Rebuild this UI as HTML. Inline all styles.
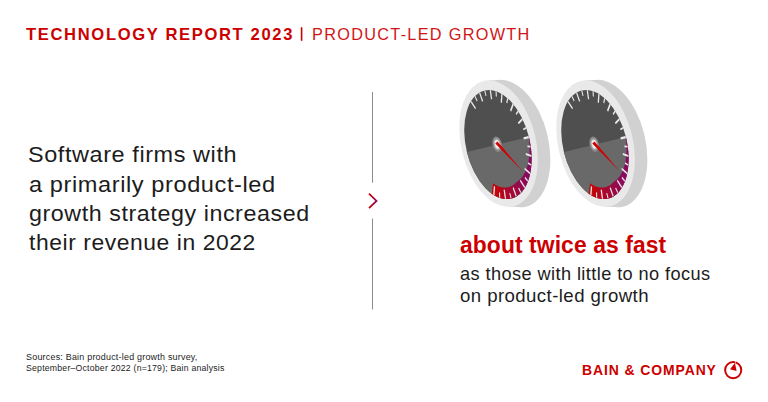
<!DOCTYPE html>
<html><head><meta charset="utf-8">
<style>
html,body{margin:0;padding:0;background:#fff;}
body{width:768px;height:402px;position:relative;overflow:hidden;font-family:"Liberation Sans",sans-serif;}
.t{position:absolute;white-space:nowrap;transform-origin:0 0;font-family:"Liberation Sans",sans-serif;}
svg{position:absolute;left:0;top:0;}
#h1{left:26.25px;top:23.79px;font-size:16.2px;line-height:21px;font-weight:bold;color:#cc0000;letter-spacing:1.6px;transform:scaleX(1.0248);}
#h2{left:311.80px;top:23.79px;font-size:16.2px;line-height:21px;font-weight:normal;color:#d01515;letter-spacing:1.3px;transform:scaleX(1.0044);}
#l1{left:28.24px;top:140.24px;font-size:22.1px;line-height:29px;font-weight:normal;color:#1c1c1c;letter-spacing:0.55px;transform:scaleX(1.0613);}
#l2{left:28.75px;top:169.74px;font-size:22.1px;line-height:29px;font-weight:normal;color:#1c1c1c;letter-spacing:0.55px;transform:scaleX(1.0672);}
#l3{left:29.30px;top:199.14px;font-size:22.1px;line-height:29px;font-weight:normal;color:#1c1c1c;letter-spacing:0.55px;transform:scaleX(1.0523);}
#l4{left:29.30px;top:228.44px;font-size:22.1px;line-height:29px;font-weight:normal;color:#1c1c1c;letter-spacing:0.55px;transform:scaleX(1.0353);}
#b1{left:460.20px;top:229.93px;font-size:23.0px;line-height:30px;font-weight:bold;color:#cc0000;letter-spacing:0.1px;transform:scaleX(0.9928);}
#s1{left:460.40px;top:263.37px;font-size:17.7px;line-height:23px;font-weight:normal;color:#1c1c1c;letter-spacing:0.4px;transform:scaleX(1.0276);}
#s2{left:460.40px;top:285.17px;font-size:17.7px;line-height:23px;font-weight:normal;color:#1c1c1c;letter-spacing:0.4px;transform:scaleX(1.0525);}
#c1{left:26.00px;top:351.79px;font-size:8.4px;line-height:11px;font-weight:normal;color:#1c1c1c;letter-spacing:0.2px;transform:scaleX(1.0688);}
#c2{left:26.00px;top:362.69px;font-size:8.4px;line-height:11px;font-weight:normal;color:#1c1c1c;letter-spacing:0.2px;transform:scaleX(1.0408);}
#g1{left:582.00px;top:361.25px;font-size:14px;line-height:18px;font-weight:bold;color:#cc0000;letter-spacing:0.9px;transform:scaleX(0.9970);}
</style></head><body>
<svg width="768" height="402" viewBox="0 0 768 402">
  <defs><linearGradient id="cg" x1="0" x2="1" y1="0" y2="0"><stop offset="0" stop-color="#cc0000"/><stop offset="1" stop-color="#8c0a5a"/></linearGradient></defs>
  <rect x="300.8" y="27.3" width="1.6" height="13.5" fill="#cc0000"/>
  <rect x="372" y="92" width="1" height="90.7" fill="#8c8c8c"/>
  <rect x="372" y="218.5" width="1" height="91" fill="#8c8c8c"/>
  <polyline points="369.0,193.7 376.5,200.9 369.0,208.1" fill="none" stroke="url(#cg)" stroke-width="1.8"/>
  <circle cx="733.2" cy="370.1" r="8.1" fill="none" stroke="#cc0000" stroke-width="1.95"/>
  <polygon points="734.9,362.9 730.0,369.2 736.6,371.1" fill="#cc0000"/>
  <line x1="735.6" y1="361.0" x2="735.3" y2="363.2" stroke="#fff" stroke-width="0.6"/>
<g id="gauges">
<circle r="1" transform="matrix(36.655,-8.559,14.904,63.139,510.80,143.60)" fill="#d1d1d1"/>
<polygon points="488.82,80.33 501.02,80.33 520.58,206.87 508.38,206.87" fill="#d1d1d1"/>
<circle r="1" transform="matrix(36.400,-8.500,14.800,62.700,498.60,143.60)" fill="#e9e9e9"/>
<circle r="1" transform="matrix(31.000,-7.400,13.200,54.100,497.90,144.50)" fill="#4f4f4f"/>
<path d="M-1,0 A1,1 0 0 0 1,0 Z" transform="matrix(31.000,-7.400,13.200,54.100,497.90,144.50)" fill="#696969"/>
<polygon points="528.71,137.14 528.90,137.10 529.67,140.51 529.19,140.57" fill="#8a0a5e"/>
<polygon points="529.07,140.01 529.55,139.94 530.21,143.37 529.44,143.39" fill="#8a0a5e"/>
<polygon points="529.34,142.84 530.11,142.80 530.67,146.23 529.59,146.17" fill="#8a0a5e"/>
<polygon points="529.50,145.62 530.58,145.65 531.03,149.08 529.64,148.89" fill="#8a0a5e"/>
<polygon points="529.58,148.34 530.97,148.51 531.31,151.92 529.60,151.54" fill="#8a0a5e"/>
<polygon points="529.56,151.00 531.26,151.35 531.49,154.74 529.48,154.13" fill="#8a0a5e"/>
<polygon points="529.45,153.60 531.46,154.18 531.58,157.54 529.26,156.64" fill="#8a0a5e"/>
<polygon points="529.25,156.12 531.57,156.98 531.58,160.29 528.95,159.06" fill="#8a0a5e"/>
<polygon points="528.96,158.56 531.59,159.74 531.49,163.01 528.57,161.40" fill="#8a0a5e"/>
<polygon points="528.59,160.90 531.51,162.47 531.30,165.67 528.10,163.64" fill="#8a0a5e"/>
<polygon points="528.14,163.16 531.35,165.14 531.03,168.27 527.55,165.78" fill="#8a0a5e"/>
<polygon points="527.60,165.32 531.09,167.76 530.66,170.81 526.92,167.82" fill="#8a0a5e"/>
<polygon points="526.99,167.37 530.74,170.31 530.20,173.28 526.23,169.74" fill="#8a0a5e"/>
<polygon points="526.31,169.32 530.30,172.80 529.65,175.67 525.46,171.56" fill="#8a0a5e"/>
<polygon points="525.56,171.15 529.77,175.20 529.02,177.98 524.63,173.26" fill="#8a0a5e"/>
<polygon points="524.75,172.87 529.15,177.52 528.30,180.19 523.74,174.83" fill="#8b0a5d"/>
<polygon points="523.87,174.46 528.45,179.75 527.50,182.30 522.79,176.29" fill="#8c0a5b"/>
<polygon points="522.93,175.94 527.67,181.89 526.62,184.31 521.79,177.62" fill="#8e0959"/>
<polygon points="521.95,177.30 526.80,183.92 525.66,186.21 520.74,178.83" fill="#8f0957"/>
<polygon points="520.91,178.52 525.85,185.84 524.62,188.00 519.65,179.91" fill="#910954"/>
<polygon points="519.82,179.63 524.83,187.65 523.51,189.67 518.51,180.86" fill="#930951"/>
<polygon points="518.70,180.60 523.73,189.34 522.33,191.21 517.34,181.68" fill="#95084e"/>
<polygon points="517.54,181.44 522.57,190.91 521.08,192.63 516.21,182.52" fill="#97084b"/>
<polygon points="516.41,182.31 521.33,192.35 519.77,193.91 515.17,183.54" fill="#990848"/>
<polygon points="515.39,183.34 520.03,193.67 518.39,195.06 514.09,184.44" fill="#9c0745"/>
<polygon points="514.31,184.27 518.67,194.84 516.97,196.07 512.96,185.24" fill="#9e0741"/>
<polygon points="513.19,185.09 517.26,195.88 515.49,196.94 511.79,185.93" fill="#a1073d"/>
<polygon points="512.03,185.80 515.79,196.78 513.96,197.66 510.59,186.50" fill="#a40639"/>
<polygon points="510.83,186.39 514.27,197.53 512.39,198.24 509.34,186.96" fill="#a60636"/>
<polygon points="509.60,186.87 512.70,198.14 510.77,198.67 508.07,187.30" fill="#a90531"/>
<polygon points="508.33,187.24 511.10,198.60 509.13,198.96 506.77,187.52" fill="#ac052d"/>
<polygon points="507.03,187.49 509.46,198.91 507.45,199.09 505.44,187.63" fill="#af0429"/>
<polygon points="505.71,187.62 507.79,199.08 505.75,199.08 504.10,187.62" fill="#b20425"/>
<polygon points="504.37,187.63 506.09,199.09 504.02,198.91 502.73,187.48" fill="#b50320"/>
<polygon points="503.01,187.52 504.37,198.96 502.28,198.60 501.36,187.24" fill="#b8031c"/>
<polygon points="501.63,187.30 502.63,198.67 500.52,198.13 499.97,186.87" fill="#bc0217"/>
<polygon points="500.25,186.95 500.87,198.24 498.76,197.53 498.58,186.39" fill="#bf0213"/>
<polygon points="498.86,186.50 499.11,197.66 497.00,196.77 497.19,185.79" fill="#c2020e"/>
<polygon points="497.47,185.92 497.35,196.93 495.24,195.87 495.80,185.08" fill="#c5010a"/>
<polygon points="496.07,185.23 495.59,196.06 493.48,194.83 494.41,184.26" fill="#c80105"/>
<polygon points="494.69,184.44 493.83,195.05 491.74,193.66 493.03,183.33" fill="#cb0001"/>
<polygon points="475.93,108.05 471.49,100.93 470.72,102.20 475.16,109.32" fill="#ebebeb"/>
<polygon points="477.59,100.62 475.40,96.03 474.61,96.84 476.80,101.43" fill="#ebebeb"/>
<polygon points="483.18,101.03 480.15,92.45 479.07,93.08 482.11,101.66" fill="#ebebeb"/>
<polygon points="486.52,95.69 485.26,90.55 484.27,90.79 485.52,95.93" fill="#ebebeb"/>
<polygon points="492.20,99.25 490.95,90.25 489.70,90.17 490.95,99.17" fill="#ebebeb"/>
<polygon points="496.82,96.65 496.65,91.58 495.57,91.21 495.74,96.28" fill="#ebebeb"/>
<polygon points="501.91,102.93 502.58,94.59 501.31,93.81 500.64,102.15" fill="#ebebeb"/>
<polygon points="507.25,103.39 508.18,99.00 507.15,98.07 506.22,102.45" fill="#ebebeb"/>
<polygon points="511.14,111.63 513.66,104.96 512.52,103.56 510.00,110.23" fill="#ebebeb"/>
<polygon points="516.55,115.08 518.48,111.90 517.61,110.52 515.69,113.70" fill="#ebebeb"/>
<polygon points="518.77,124.29 522.83,120.09 521.96,118.25 517.89,122.45" fill="#ebebeb"/>
<polygon points="523.61,130.32 526.29,128.73 525.70,127.07 523.02,128.65" fill="#ebebeb"/>
<polygon points="523.88,139.39 529.00,138.16 528.49,136.11 523.38,137.33" fill="#ebebeb"/>
<polygon points="527.56,147.27 530.68,147.47 530.44,145.72 527.32,145.52" fill="#ebebeb"/>
<polygon points="525.86,155.10 531.41,157.01 531.34,154.98 525.79,153.07" fill="#ebebeb"/>
<polygon points="527.94,163.89 531.11,165.85 531.24,164.23 528.07,162.27" fill="#ebebeb"/>
<polygon points="524.47,169.54 529.78,174.34 530.16,172.58 524.84,167.78" fill="#ebebeb"/>
<polygon points="524.69,178.16 527.54,181.65 528.03,180.36 525.18,176.87" fill="#ebebeb"/>
<polygon points="519.87,180.95 524.31,188.07 525.08,186.80 520.64,179.68" fill="#ebebeb"/>
<polygon points="518.21,188.38 520.40,192.97 521.19,192.16 519.00,187.57" fill="#ebebeb"/>
<polygon points="512.62,187.97 515.65,196.55 516.73,195.92 513.69,187.34" fill="#ebebeb"/>
<polygon points="509.28,193.31 510.54,198.45 511.53,198.21 510.28,193.07" fill="#ebebeb"/>
<polygon points="503.60,189.75 504.85,198.75 506.10,198.83 504.85,189.83" fill="#ebebeb"/>
<polygon points="498.98,192.35 499.15,197.42 500.23,197.79 500.06,192.72" fill="#ebebeb"/>
<polygon points="493.89,186.07 493.22,194.41 494.49,195.19 495.16,186.85" fill="#ebebeb"/>
<ellipse cx="497.20" cy="144.30" rx="4.7" ry="8.0" transform="rotate(-13 497.20 144.30)" fill="#828282"/>
<ellipse cx="497.20" cy="144.30" rx="3.7" ry="6.3" transform="rotate(-13 497.20 144.30)" fill="#a2a2a2"/>
<ellipse cx="497.20" cy="144.30" rx="2.5" ry="4.5" transform="rotate(-13 497.20 144.30)" fill="#ededed"/>
<polygon points="495.28,143.39 523.03,171.86 497.51,141.38" fill="#d40000"/>
<circle r="1" transform="matrix(36.655,-8.559,14.904,63.139,607.80,143.60)" fill="#d1d1d1"/>
<polygon points="585.82,80.33 598.02,80.33 617.58,206.87 605.38,206.87" fill="#d1d1d1"/>
<circle r="1" transform="matrix(36.400,-8.500,14.800,62.700,595.60,143.60)" fill="#e9e9e9"/>
<circle r="1" transform="matrix(31.000,-7.400,13.200,54.100,594.90,144.50)" fill="#4f4f4f"/>
<path d="M-1,0 A1,1 0 0 0 1,0 Z" transform="matrix(31.000,-7.400,13.200,54.100,594.90,144.50)" fill="#696969"/>
<polygon points="625.71,137.14 625.90,137.10 626.67,140.51 626.19,140.57" fill="#8a0a5e"/>
<polygon points="626.07,140.01 626.55,139.94 627.21,143.37 626.44,143.39" fill="#8a0a5e"/>
<polygon points="626.34,142.84 627.11,142.80 627.67,146.23 626.59,146.17" fill="#8a0a5e"/>
<polygon points="626.50,145.62 627.58,145.65 628.03,149.08 626.64,148.89" fill="#8a0a5e"/>
<polygon points="626.58,148.34 627.97,148.51 628.31,151.92 626.60,151.54" fill="#8a0a5e"/>
<polygon points="626.56,151.00 628.26,151.35 628.49,154.74 626.48,154.13" fill="#8a0a5e"/>
<polygon points="626.45,153.60 628.46,154.18 628.58,157.54 626.26,156.64" fill="#8a0a5e"/>
<polygon points="626.25,156.12 628.57,156.98 628.58,160.29 625.95,159.06" fill="#8a0a5e"/>
<polygon points="625.96,158.56 628.59,159.74 628.49,163.01 625.57,161.40" fill="#8a0a5e"/>
<polygon points="625.59,160.90 628.51,162.47 628.30,165.67 625.10,163.64" fill="#8a0a5e"/>
<polygon points="625.14,163.16 628.35,165.14 628.03,168.27 624.55,165.78" fill="#8a0a5e"/>
<polygon points="624.60,165.32 628.09,167.76 627.66,170.81 623.92,167.82" fill="#8a0a5e"/>
<polygon points="623.99,167.37 627.74,170.31 627.20,173.28 623.23,169.74" fill="#8a0a5e"/>
<polygon points="623.31,169.32 627.30,172.80 626.65,175.67 622.46,171.56" fill="#8a0a5e"/>
<polygon points="622.56,171.15 626.77,175.20 626.02,177.98 621.63,173.26" fill="#8a0a5e"/>
<polygon points="621.75,172.87 626.15,177.52 625.30,180.19 620.74,174.83" fill="#8b0a5d"/>
<polygon points="620.87,174.46 625.45,179.75 624.50,182.30 619.79,176.29" fill="#8c0a5b"/>
<polygon points="619.93,175.94 624.67,181.89 623.62,184.31 618.79,177.62" fill="#8e0959"/>
<polygon points="618.95,177.30 623.80,183.92 622.66,186.21 617.74,178.83" fill="#8f0957"/>
<polygon points="617.91,178.52 622.85,185.84 621.62,188.00 616.65,179.91" fill="#910954"/>
<polygon points="616.82,179.63 621.83,187.65 620.51,189.67 615.51,180.86" fill="#930951"/>
<polygon points="615.70,180.60 620.73,189.34 619.33,191.21 614.34,181.68" fill="#95084e"/>
<polygon points="614.54,181.44 619.57,190.91 618.08,192.63 613.21,182.52" fill="#97084b"/>
<polygon points="613.41,182.31 618.33,192.35 616.77,193.91 612.17,183.54" fill="#990848"/>
<polygon points="612.39,183.34 617.03,193.67 615.39,195.06 611.09,184.44" fill="#9c0745"/>
<polygon points="611.31,184.27 615.67,194.84 613.97,196.07 609.96,185.24" fill="#9e0741"/>
<polygon points="610.19,185.09 614.26,195.88 612.49,196.94 608.79,185.93" fill="#a1073d"/>
<polygon points="609.03,185.80 612.79,196.78 610.96,197.66 607.59,186.50" fill="#a40639"/>
<polygon points="607.83,186.39 611.27,197.53 609.39,198.24 606.34,186.96" fill="#a60636"/>
<polygon points="606.60,186.87 609.70,198.14 607.77,198.67 605.07,187.30" fill="#a90531"/>
<polygon points="605.33,187.24 608.10,198.60 606.13,198.96 603.77,187.52" fill="#ac052d"/>
<polygon points="604.03,187.49 606.46,198.91 604.45,199.09 602.44,187.63" fill="#af0429"/>
<polygon points="602.71,187.62 604.79,199.08 602.75,199.08 601.10,187.62" fill="#b20425"/>
<polygon points="601.37,187.63 603.09,199.09 601.02,198.91 599.73,187.48" fill="#b50320"/>
<polygon points="600.01,187.52 601.37,198.96 599.28,198.60 598.36,187.24" fill="#b8031c"/>
<polygon points="598.63,187.30 599.63,198.67 597.52,198.13 596.97,186.87" fill="#bc0217"/>
<polygon points="597.25,186.95 597.87,198.24 595.76,197.53 595.58,186.39" fill="#bf0213"/>
<polygon points="595.86,186.50 596.11,197.66 594.00,196.77 594.19,185.79" fill="#c2020e"/>
<polygon points="594.47,185.92 594.35,196.93 592.24,195.87 592.80,185.08" fill="#c5010a"/>
<polygon points="593.07,185.23 592.59,196.06 590.48,194.83 591.41,184.26" fill="#c80105"/>
<polygon points="591.69,184.44 590.83,195.05 588.74,193.66 590.03,183.33" fill="#cb0001"/>
<polygon points="572.93,108.05 568.49,100.93 567.72,102.20 572.16,109.32" fill="#ebebeb"/>
<polygon points="574.59,100.62 572.40,96.03 571.61,96.84 573.80,101.43" fill="#ebebeb"/>
<polygon points="580.18,101.03 577.15,92.45 576.07,93.08 579.11,101.66" fill="#ebebeb"/>
<polygon points="583.52,95.69 582.26,90.55 581.27,90.79 582.52,95.93" fill="#ebebeb"/>
<polygon points="589.20,99.25 587.95,90.25 586.70,90.17 587.95,99.17" fill="#ebebeb"/>
<polygon points="593.82,96.65 593.65,91.58 592.57,91.21 592.74,96.28" fill="#ebebeb"/>
<polygon points="598.91,102.93 599.58,94.59 598.31,93.81 597.64,102.15" fill="#ebebeb"/>
<polygon points="604.25,103.39 605.18,99.00 604.15,98.07 603.22,102.45" fill="#ebebeb"/>
<polygon points="608.14,111.63 610.66,104.96 609.52,103.56 607.00,110.23" fill="#ebebeb"/>
<polygon points="613.55,115.08 615.48,111.90 614.61,110.52 612.69,113.70" fill="#ebebeb"/>
<polygon points="615.77,124.29 619.83,120.09 618.96,118.25 614.89,122.45" fill="#ebebeb"/>
<polygon points="620.61,130.32 623.29,128.73 622.70,127.07 620.02,128.65" fill="#ebebeb"/>
<polygon points="620.88,139.39 626.00,138.16 625.49,136.11 620.38,137.33" fill="#ebebeb"/>
<polygon points="624.56,147.27 627.68,147.47 627.44,145.72 624.32,145.52" fill="#ebebeb"/>
<polygon points="622.86,155.10 628.41,157.01 628.34,154.98 622.79,153.07" fill="#ebebeb"/>
<polygon points="624.94,163.89 628.11,165.85 628.24,164.23 625.07,162.27" fill="#ebebeb"/>
<polygon points="621.47,169.54 626.78,174.34 627.16,172.58 621.84,167.78" fill="#ebebeb"/>
<polygon points="621.69,178.16 624.54,181.65 625.03,180.36 622.18,176.87" fill="#ebebeb"/>
<polygon points="616.87,180.95 621.31,188.07 622.08,186.80 617.64,179.68" fill="#ebebeb"/>
<polygon points="615.21,188.38 617.40,192.97 618.19,192.16 616.00,187.57" fill="#ebebeb"/>
<polygon points="609.62,187.97 612.65,196.55 613.73,195.92 610.69,187.34" fill="#ebebeb"/>
<polygon points="606.28,193.31 607.54,198.45 608.53,198.21 607.28,193.07" fill="#ebebeb"/>
<polygon points="600.60,189.75 601.85,198.75 603.10,198.83 601.85,189.83" fill="#ebebeb"/>
<polygon points="595.98,192.35 596.15,197.42 597.23,197.79 597.06,192.72" fill="#ebebeb"/>
<polygon points="590.89,186.07 590.22,194.41 591.49,195.19 592.16,186.85" fill="#ebebeb"/>
<ellipse cx="594.20" cy="144.30" rx="4.7" ry="8.0" transform="rotate(-13 594.20 144.30)" fill="#828282"/>
<ellipse cx="594.20" cy="144.30" rx="3.7" ry="6.3" transform="rotate(-13 594.20 144.30)" fill="#a2a2a2"/>
<ellipse cx="594.20" cy="144.30" rx="2.5" ry="4.5" transform="rotate(-13 594.20 144.30)" fill="#ededed"/>
<polygon points="592.28,143.39 620.03,171.86 594.51,141.38" fill="#d40000"/>
</g>
</svg>

<div id="h1" class="t">TECHNOLOGY REPORT 2023</div>
<div id="h2" class="t">PRODUCT-LED GROWTH</div>
<div id="l1" class="t">Software firms with</div>
<div id="l2" class="t">a primarily product-led</div>
<div id="l3" class="t">growth strategy increased</div>
<div id="l4" class="t">their revenue in 2022</div>
<div id="b1" class="t">about twice as fast</div>
<div id="s1" class="t">as those with little to no focus</div>
<div id="s2" class="t">on product-led growth</div>
<div id="c1" class="t">Sources: Bain product-led growth survey,</div>
<div id="c2" class="t">September–October 2022 (n=179); Bain analysis</div>
<div id="g1" class="t">BAIN &amp; COMPANY</div>
</body></html>
